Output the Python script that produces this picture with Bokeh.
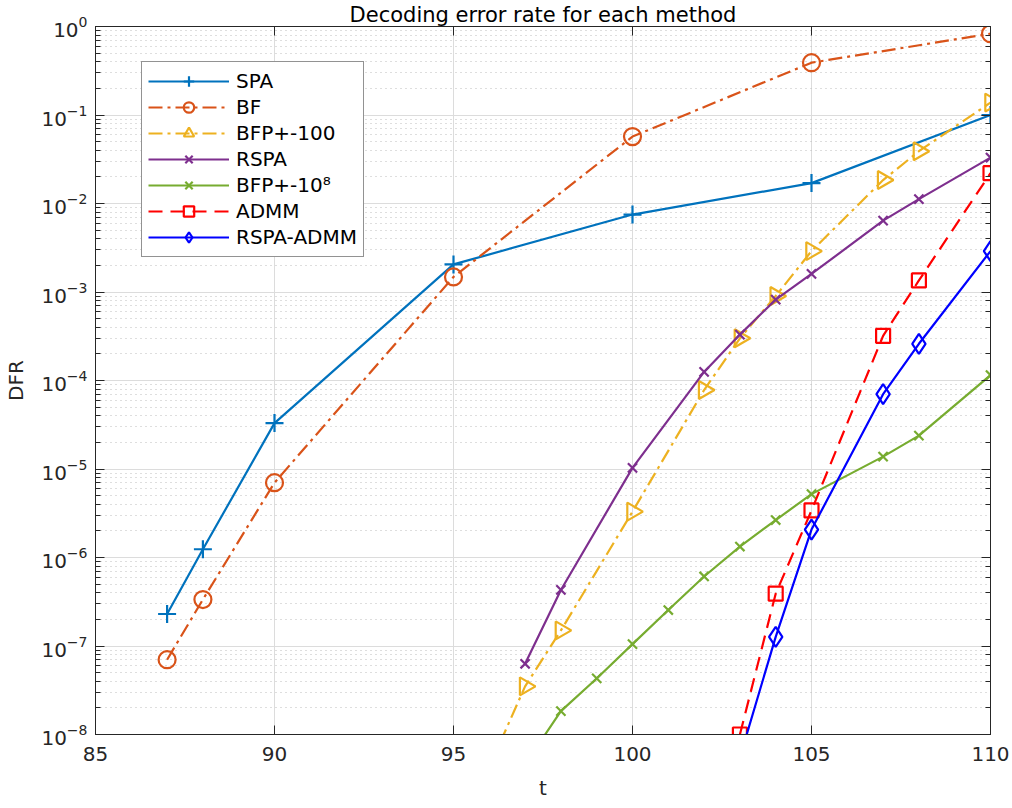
import math
from bokeh.plotting import figure
from bokeh.models import LogAxis, LinearAxis, FixedTicker, Legend, LegendItem, CustomJSTickFormatter
from bokeh.embed import file_html
from bokeh.resources import INLINE

# ---- data ----
spa_t = [87, 88, 90, 95, 100, 105, 110]
spa = [2.3e-7, 1.24e-6, 3.3e-5, 2.05e-3, 7.5e-3, 1.7e-2, 0.1]
bf_t = [87, 88, 90, 95, 100, 105, 110]
bf = [7.0e-8, 3.35e-7, 7.0e-6, 1.48e-3, 0.057, 0.39, 0.83]
bfp100_t = [96, 97, 98, 100, 102, 103, 104, 105, 107, 108, 110]
bfp100 = [4.3e-9, 3.5e-8, 1.5e-7, 3.3e-6, 7.8e-5, 3.0e-4, 9.0e-4, 2.9e-3, 1.84e-2, 3.9e-2, 0.138]
rspa_t = [97, 98, 100, 102, 103, 104, 105, 107, 108, 110]
rspa = [6.3e-8, 4.3e-7, 1.03e-5, 1.25e-4, 3.3e-4, 8.2e-4, 1.6e-3, 6.4e-3, 1.12e-2, 3.3e-2]
bfp8_t = [97, 98, 99, 100, 101, 102, 103, 104, 105, 107, 108, 110]
bfp8 = [4.6e-9, 1.84e-8, 4.3e-8, 1.05e-7, 2.55e-7, 6.1e-7, 1.33e-6, 2.65e-6, 5.2e-6, 1.38e-5, 2.38e-5, 1.15e-4]
admm_t = [103, 104, 105, 107, 108, 110]
admm = [1.0e-8, 3.9e-7, 3.4e-6, 3.2e-4, 1.35e-3, 2.2e-2]
ra_t = [103, 104, 105, 107, 108, 110]
ra = [5.5e-9, 1.27e-7, 2.07e-6, 7.0e-5, 2.6e-4, 2.9e-3]

x_ticks = [85, 90, 95, 100, 105, 110]
names = ["SPA", "BF", "BFP+-100", "RSPA", "BFP+-10⁸", "ADMM", "RSPA-ADMM"]
title_text = "Decoding error rate for each method"

FONT = "DejaVu Sans"
AX = "#262626"

p = figure(width=1012, height=808, y_axis_type="log", x_range=(85, 110), y_range=(1e-8, 1),
           output_backend="svg", toolbar_location=None, title=title_text,
           min_border_left=95, min_border_right=22, min_border_top=4, min_border_bottom=74)
p.title.align = "center"
p.title.text_font = FONT
p.title.text_font_size = "21px"
p.title.text_font_style = "normal"
p.title.text_color = "black"
p.title.standoff = 0
p.title.offset = 0

p.outline_line_color = AX
p.outline_line_width = 1

blank = CustomJSTickFormatter(code="return ''")

# axes
p.xaxis.ticker = FixedTicker(ticks=x_ticks)
for ax in p.xaxis + p.yaxis:
    ax.axis_line_color = AX
    ax.major_tick_line_color = AX
    ax.minor_tick_line_color = AX
    ax.major_tick_in = 9
    ax.major_tick_out = 0
    ax.minor_tick_in = 5
    ax.minor_tick_out = 0
    ax.major_label_text_font = FONT
    ax.major_label_text_font_size = "20px"
    ax.major_label_text_color = "#262626"
    ax.axis_label_text_font = FONT
    ax.axis_label_text_font_size = "20px"
    ax.axis_label_text_font_style = "normal"
    ax.axis_label_text_color = "#262626"
p.xaxis.axis_label = "t"
p.yaxis.axis_label = "DFR"
p.xaxis.minor_tick_line_color = None
p.xaxis.major_label_standoff = 12
p.xaxis.axis_label_standoff = 12
p.yaxis.major_label_standoff = 8
p.yaxis.axis_label_standoff = 10

# mirrored axes (box)
top = LinearAxis(ticker=FixedTicker(ticks=x_ticks), formatter=blank, major_tick_in=9, major_tick_out=0,
                 minor_tick_line_color=None, axis_line_color=AX, major_tick_line_color=AX,
                 major_label_standoff=0)
p.add_layout(top, "above")
right = LogAxis(formatter=blank, major_tick_in=9, major_tick_out=0, minor_tick_in=5, minor_tick_out=0,
                axis_line_color=AX, major_tick_line_color=AX, minor_tick_line_color=AX,
                major_label_standoff=0)
p.add_layout(right, "right")

# grids
p.xgrid.grid_line_color = "#dcdcdc"
p.ygrid.grid_line_color = "#dcdcdc"
p.ygrid.minor_grid_line_color = "#bdbdbd"
p.ygrid.minor_grid_line_dash = "1 4"
p.ygrid.minor_grid_line_width = 1.2

LW = 2.2
items = []

def add(name, xs, ys, color, dash, marker, size, angle=0.0):
    r1 = p.line(xs, ys, line_color=color, line_width=LW, line_dash=dash)
    r2 = p.scatter(xs, ys, marker=marker, size=size, line_color=color, fill_color=None,
                   line_width=LW, angle=angle)
    items.append(LegendItem(label=name, renderers=[r1, r2]))

add(names[0], spa_t, spa, "#0072BD", "solid", "cross", 18)
add(names[1], bf_t, bf, "#D95319", "14 5 3 5", "circle", 17)
add(names[2], bfp100_t, bfp100, "#EDB120", "14 5 3 5", "triangle", 18, -math.pi / 2)
add(names[3], rspa_t, rspa, "#7E2F8E", "solid", "x", 13)
add(names[4], bfp8_t, bfp8, "#77AC30", "solid", "x", 13)
add(names[5], admm_t, admm, "#FF0000", "14 8", "square", 14)
add(names[6], ra_t, ra, "#0000FF", "solid", "diamond", 20)

legend = Legend(items=items, location=(46, 477), glyph_width=81, glyph_height=26, label_height=26,
                label_text_font=FONT, label_text_font_size="20px", label_text_color="black",
                spacing=0, padding=6, margin=0, border_line_color=AX, border_line_width=1,
                background_fill_color="white", background_fill_alpha=1.0, label_standoff=7)
p.add_layout(legend, "center")

open("out.html", "w").write(file_html(p, INLINE))
